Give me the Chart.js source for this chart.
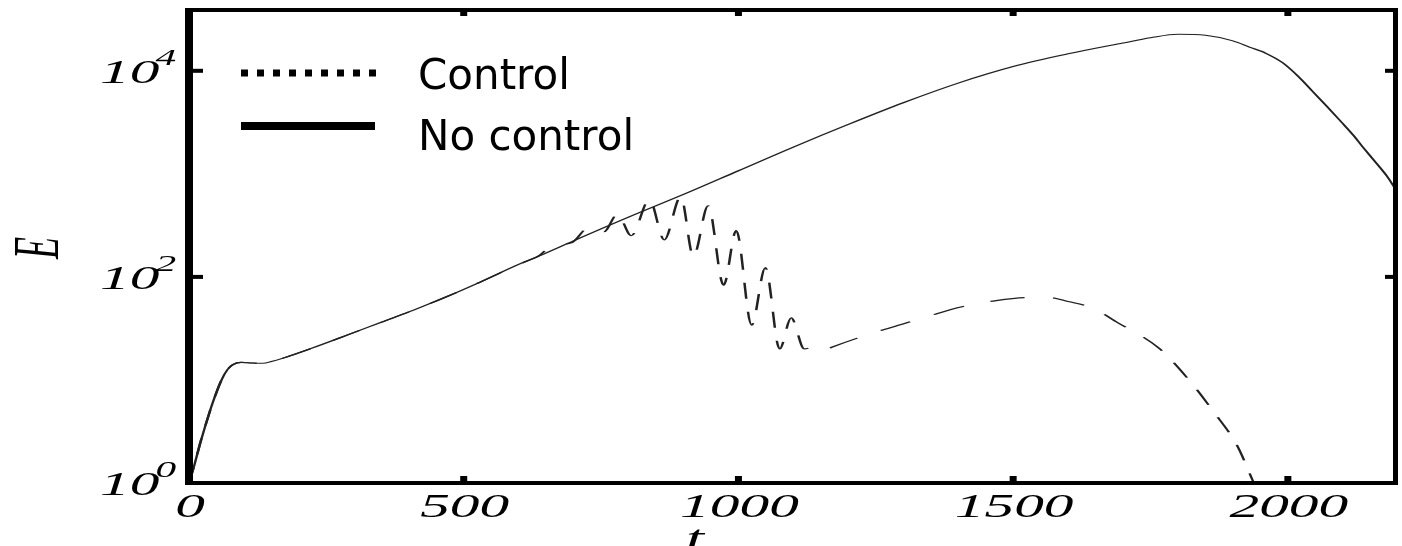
<!DOCTYPE html>
<html>
<head>
<meta charset="utf-8">
<script src="https://cdn.jsdelivr.net/npm/chart.js@4.4.1/dist/chart.umd.min.js"></script>
<style>
html,body{margin:0;padding:0;background:#fff;}
#wrap{width:1402px;height:546px;position:relative;}
</style>
</head>
<body>
<div id="wrap"><canvas id="c"></canvas></div>
<script>
// ---- data ----
const noControlT = [0,10,20,30,40,50,60,70,80,95,115,135,150,170,220,290,350,410,470,530,600,640,700,800,900,1000,1100,1200,1300,1400,1500,1600,1700,1750,1800,1850,1900,1930,1960,1990,2020,2045,2070,2098,2120,2135,2160,2180,2195];
const noControlE = [1,1.51,2.40,3.63,5.37,7.59,10.2,12.6,14.1,14.8,14.6,14.5,15.1,16.2,20.0,27.5,36.3,47.9,64.6,89.1,132,162,224,380,631,1072,1820,3020,4900,7600,11000,14600,18600,20900,22600,22100,19500,16980,14790,12020,8710,6310,4570,3160,2340,1860,1290,955,724];

const controlT = [0,10,20,30,40,50,60,70,80,95,115,135,150,170,220,290,350,410,470,530,600,638,660,696,729,755,780,805,838,865,895,918,945,973,996,1024,1049,1075,1096,1120,1138,1147,1162,1171,1247,1298,1353,1407,1469,1533,1565,1593,1647,1689,1765,1820,1865,1907,1938];
const controlE = [1,1.51,2.40,3.63,5.37,7.59,10.2,12.6,14.1,14.8,14.6,14.5,15.1,16.2,20.0,27.5,36.3,47.9,64.6,89.1,132,162,200,214,305,274,407,251,562,229,603,158,490,83,282,34,123,20,40,20,21.4,21.9,20,20.9,28.8,34.7,42.7,51.3,58.9,63.1,63.1,58.9,49.0,36.3,20.4,10.0,4.9,2.34,1.0];

const xTicks = [0,500,1000,1500,2000];
const yTicks = [1,100,10000];
const yTickExp = ['0','2','4'];
const legendLabels = ['Control','No control'];
const xTitle = 't';
const yTitle = 'E';

const toXY = (ts, es) => ts.map((t,i)=>({x:t, y:es[i]}));

// horizontal stretch of the original figure (lines & dashes drawn in a stretched frame)
const stretchPlugin = {
  id:'stretch',
  beforeDatasetDraw(chart,args){
    const ds = chart.data.datasets[args.index];
    const k = ds.hStretch; if(!k) return;
    const meta = args.meta;
    meta._savedX = meta.data.map(p=>p.x);
    meta.data.forEach(p=>{p.x = p.x/k;});
    if(meta.dataset){ meta.dataset._pointsUpdated=false; meta.dataset._path=undefined; }
    chart.ctx.save();
    chart.ctx.scale(k,1);
  },
  afterDatasetDraw(chart,args){
    const ds = chart.data.datasets[args.index];
    const k = ds.hStretch; if(!k) return;
    const meta = args.meta;
    chart.ctx.restore();
    meta.data.forEach((p,i)=>{p.x = meta._savedX[i];});
    if(meta.dataset){ meta.dataset._pointsUpdated=false; meta.dataset._path=undefined; }
  }
};

function sText(ctx,str,x,y,k,align){
  ctx.save(); ctx.translate(x,y); ctx.scale(k,1); ctx.textAlign=align; ctx.fillText(str,0,0); ctx.restore();
}

const framePlugin = {
  id:'frame',
  afterDraw(chart){
    const ctx = chart.ctx, a = chart.chartArea, xs = chart.scales.x, ys = chart.scales.y;
    ctx.save();
    ctx.fillStyle = '#000';
    // frame
    ctx.fillRect(a.left-4, a.top-2, 8, a.bottom-a.top+4);
    ctx.fillRect(a.left-4, a.bottom-2, a.right-a.left+7, 4);
    ctx.fillRect(a.left-4, a.top-2, a.right-a.left+7, 4);
    ctx.fillRect(a.right-2, a.top-2, 5, a.bottom-a.top+4);
    // x ticks (inward)
    xTicks.forEach(v=>{
      const px = xs.getPixelForValue(v);
      ctx.fillRect(px-3.5, a.bottom-7, 7, 6);
      ctx.fillRect(px-3.5, a.top+1, 7, 5);
    });
    // y ticks (inward)
    yTicks.forEach(v=>{
      const py = ys.getPixelForValue(v);
      ctx.fillRect(a.left, py-2, 14, 4);
      ctx.fillRect(a.right-10, py-2, 10, 4);
    });
    // tick labels
    ctx.textBaseline='alphabetic';
    ctx.font = 'italic 33px "Liberation Serif"';
    xTicks.forEach(v=>{
      sText(ctx, String(v), xs.getPixelForValue(v)+1, 517, 1.8, 'center');
    });
    yTicks.forEach((v,i)=>{
      const py = ys.getPixelForValue(v);
      ctx.font = 'italic 33px "Liberation Serif"';
      const w = ctx.measureText('10').width*1.8;
      sText(ctx,'10',100,py+12,1.8,'left');
      ctx.font = 'italic 23px "Liberation Serif"';
      sText(ctx,yTickExp[i],100+w-4,py-6,1.8,'left');
    });
    // axis titles
    ctx.font = 'italic 36px "Liberation Serif"';
    sText(ctx, xTitle, 695, 550, 1.8, 'center');
    ctx.save();
    ctx.translate(41,248); ctx.scale(1.8,1); ctx.rotate(-Math.PI/2);
    ctx.textAlign='center'; ctx.textBaseline='middle';
    ctx.fillText(yTitle,0,0);
    ctx.restore();
    // legend
    ctx.strokeStyle='#000';
    ctx.lineCap='butt';
    ctx.lineWidth=7;
    ctx.setLineDash([7,9]);
    ctx.beginPath(); ctx.moveTo(241,73); ctx.lineTo(377,73); ctx.stroke();
    ctx.setLineDash([]);
    ctx.lineWidth=8;
    ctx.beginPath(); ctx.moveTo(241,126); ctx.lineTo(375,126); ctx.stroke();
    ctx.font = '42px "DejaVu Sans"';
    ctx.textAlign='left'; ctx.textBaseline='alphabetic';
    ctx.fillText(legendLabels[0], 418, 89);
    ctx.fillText(legendLabels[1], 418, 150);
    ctx.restore();
  }
};

new Chart(document.getElementById('c'), {
  type:'line',
  data:{
    datasets:[
      {label:legendLabels[1], data:toXY(noControlT,noControlE), borderColor:'#222', borderWidth:1.1,
       pointRadius:0, cubicInterpolationMode:'monotone', capBezierPoints:false, clip:false, hStretch:2.2},
      {label:legendLabels[0], data:toXY(controlT,controlE), borderColor:'#222', borderWidth:1.15,
       borderDash:[16,13], pointRadius:0, cubicInterpolationMode:'monotone', capBezierPoints:false, clip:false, hStretch:2.2}
    ]
  },
  options:{
    responsive:true, maintainAspectRatio:false, animation:false, events:[],
    layout:{padding:{top:10,right:7,left:0,bottom:0}},
    plugins:{legend:{display:false}, tooltip:{enabled:false}},
    scales:{
      x:{type:'linear', min:0, max:2195,
         ticks:{display:false}, grid:{display:false}, border:{display:false},
         afterFit(s){ s.height = 63; }},
      y:{type:'logarithmic', min:1, max:38900,
         ticks:{display:false}, grid:{display:false}, border:{display:false},
         afterFit(s){ s.width = 189; }}
    }
  },
  plugins:[stretchPlugin, framePlugin]
});
</script>
</body>
</html>
